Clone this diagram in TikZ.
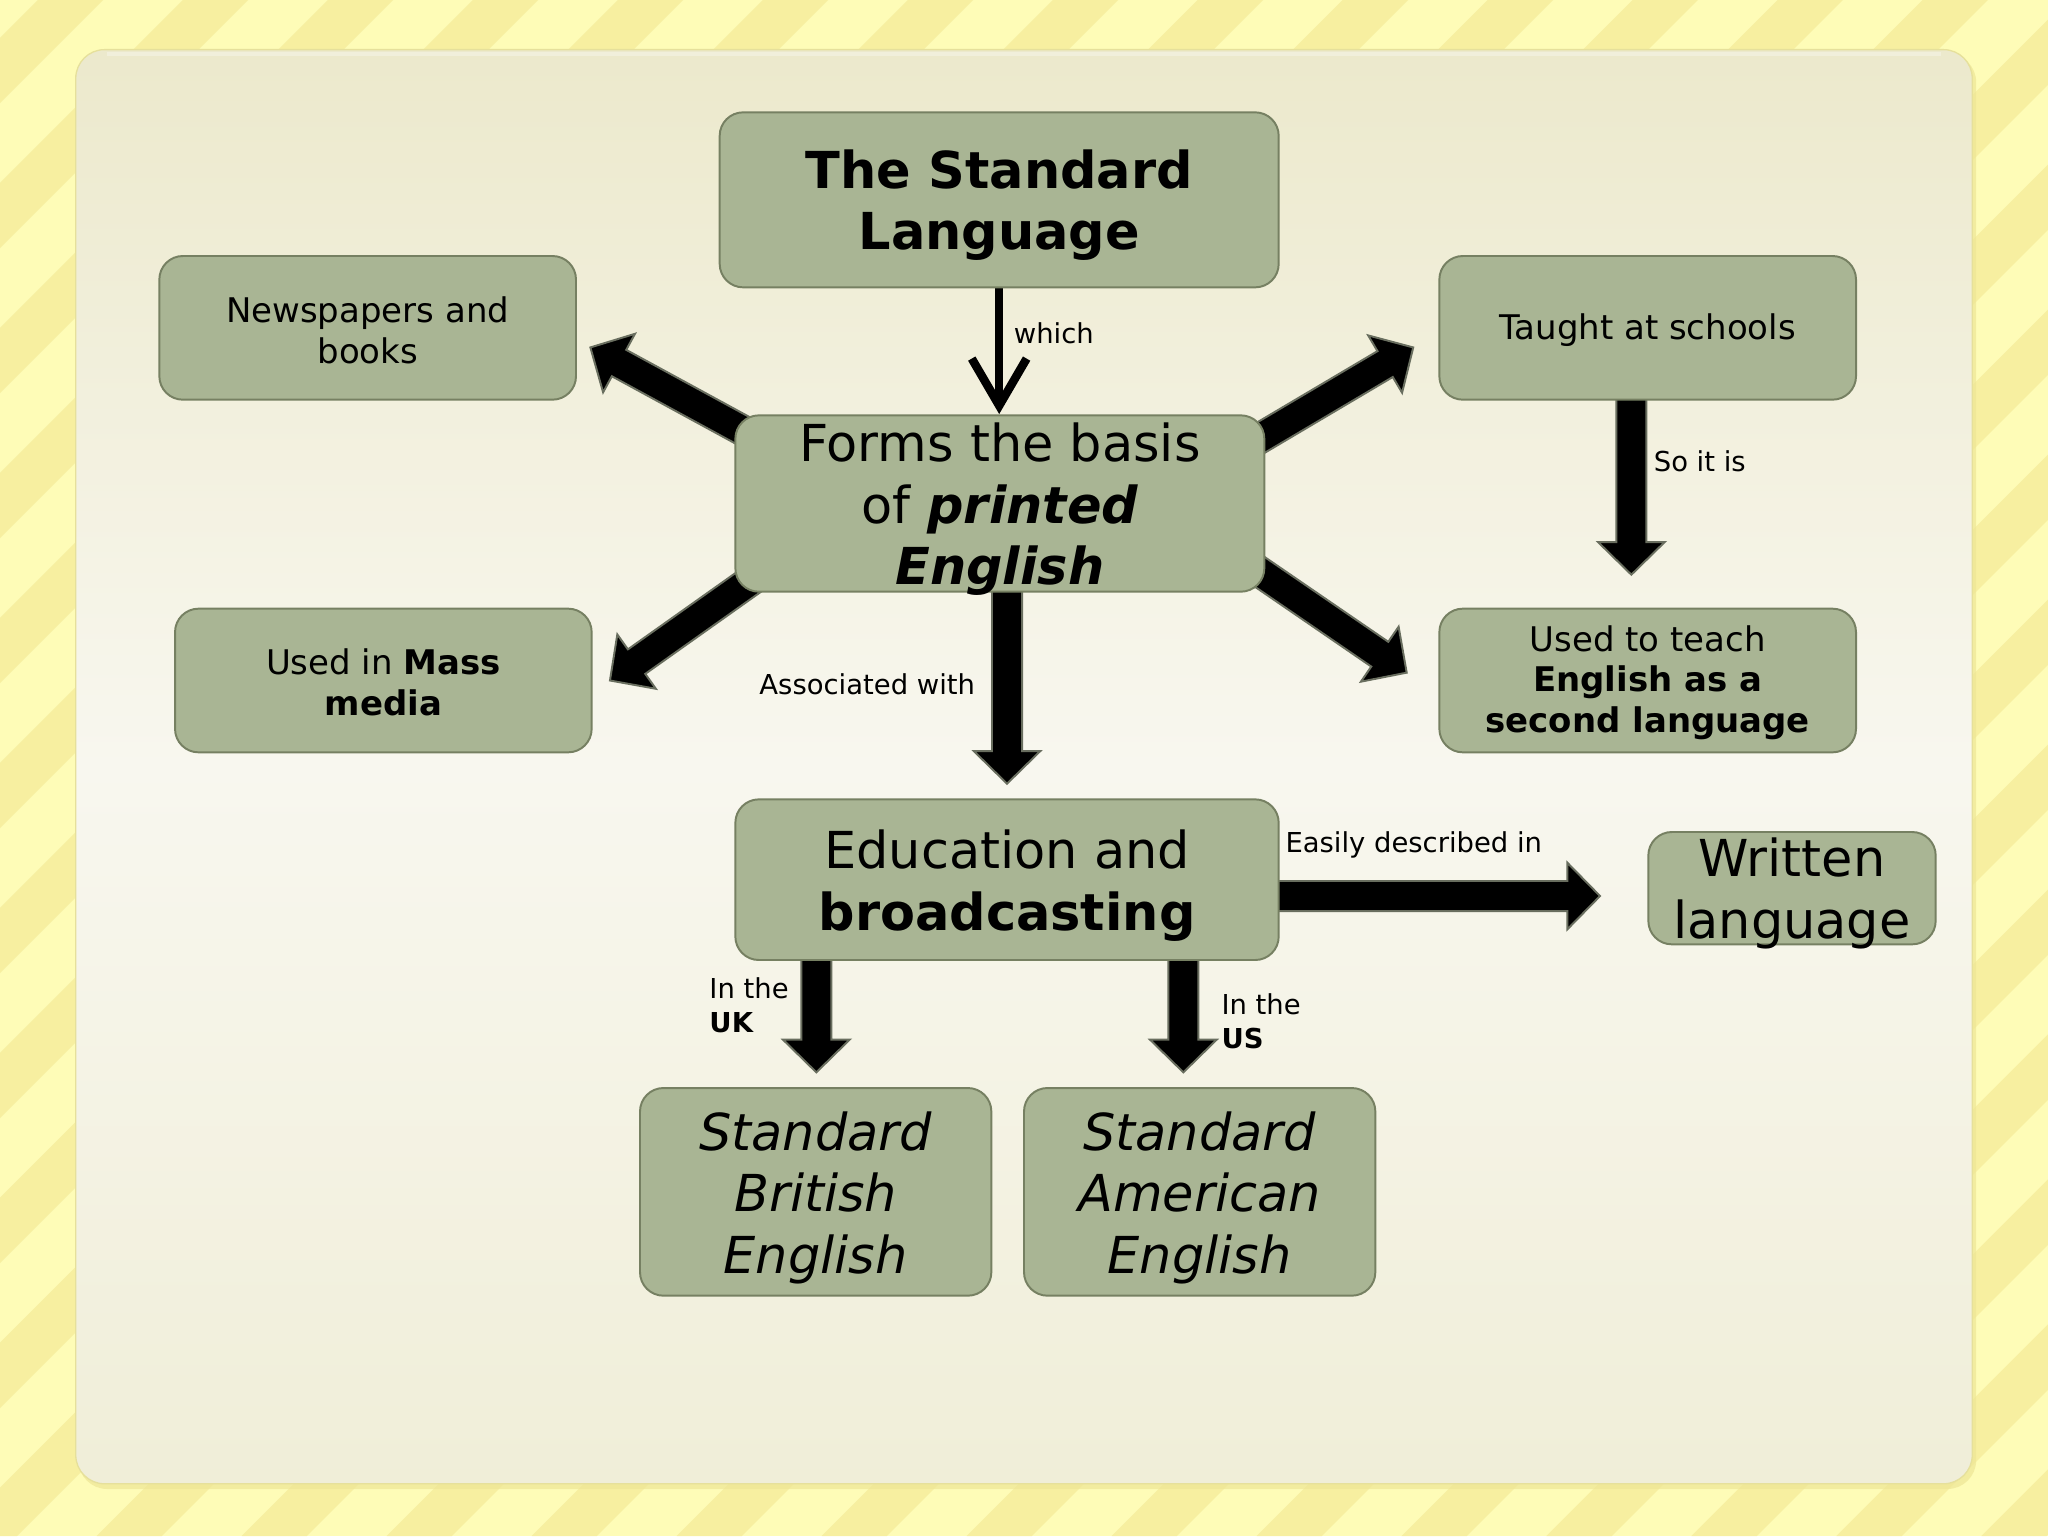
\documentclass[tikz,border=0pt]{standalone}
\usepackage{fontspec}
\setmainfont{DejaVu Sans}[BoldFont={DejaVu Sans Bold},ItalicFont={DejaVu Sans Oblique},BoldItalicFont={DejaVu Sans Bold Oblique}]
\usetikzlibrary{calc,arrows.meta}
\pgfdeclarelayer{back}
\pgfdeclarelayer{conn}
\pgfsetlayers{back,conn,main}

\definecolor{stripeA}{RGB}{254,252,183}
\definecolor{stripeB}{RGB}{247,239,160}
\definecolor{boxfill}{RGB}{169,181,148}
\definecolor{boxline}{RGB}{118,128,98}
\definecolor{arrline}{RGB}{105,110,95}
\definecolor{panelTop}{RGB}{236,233,204}
\definecolor{panelMid}{RGB}{248,247,239}
\definecolor{panelBot}{RGB}{240,238,216}
\definecolor{panelShadow}{RGB}{238,230,150}
\definecolor{panelEdge}{RGB}{230,224,155}

\newcommand\blockarrow[2]{%
  \coordinate (ba-h) at ($(#2)!25pt!(#1)$);
  \draw[blockarr] ($(#1)!11.5pt!90:(#2)$) -- ($(ba-h)!11.5pt!-90:(#1)$) -- ($(ba-h)!25.5pt!-90:(#1)$) -- (#2) -- ($(ba-h)!25.5pt!90:(#1)$) -- ($(ba-h)!11.5pt!90:(#1)$) -- ($(#1)!11.5pt!-90:(#2)$) -- cycle;
}

\tikzset{
  box/.style={draw=boxline, fill=boxfill, line width=1.5pt, rounded corners=18pt, inner sep=0pt},
  bigtxt/.style={font=\fontsize{39}{47}\selectfont, align=center, inner sep=0pt},
  smalltxt/.style={font=\fontsize{26}{31}\selectfont, align=center, inner sep=0pt},
  lbl/.style={font=\fontsize{21}{26}\selectfont, inner sep=0pt, align=left},
  blockarr/.style={fill=black, draw=arrline, line width=1.5pt, line join=miter},
  thinarr/.style={line width=6.5pt, -{Straight Barb[length=36pt,width=42pt]}},
}

\begin{document}
\begin{tikzpicture}[x=1pt,y=-1pt]
\useasboundingbox (0,0) rectangle (1568,1176);

\begin{pgfonlayer}{back}
  \fill[stripeA] (0,0) rectangle (1568,1176);
  \begin{scope}
    \clip (0,0) rectangle (1568,1176);
    \foreach \k in {0,...,25} {
      \pgfmathsetmacro\ca{29+111*\k}
      \pgfmathsetmacro\cb{79+111*\k}
      \fill[stripeB] (\ca,0) -- (\cb,0) -- (\cb-1176,1176) -- (\ca-1176,1176) -- cycle;
    }
  \end{scope}
  \fill[panelShadow, opacity=0.7, rounded corners=22pt] (60,41) rectangle (1513,1140);
  \shade[rounded corners=22pt, top color=panelTop, bottom color=panelBot, middle color=panelMid] (58,38) rectangle (1510,1136);
  \draw[panelEdge, line width=1pt, rounded corners=22pt] (58,38) rectangle (1510,1136);
  \draw[white, opacity=0.3, line width=3pt] (82,41) -- (1486,41);
\end{pgfonlayer}

% boxes
\node[box, minimum width=428pt, minimum height=134pt] (std) at (765,153) {};
\node[box, minimum width=319pt, minimum height=110pt] (news) at (281.5,251) {};
\node[box, minimum width=319pt, minimum height=110pt] (taught) at (1261.5,251) {};
\node[box, minimum width=405pt, minimum height=135pt] (forms) at (765.5,385.5) {};
\node[box, minimum width=319pt, minimum height=110pt] (mass) at (293.5,521) {};
\node[box, minimum width=319pt, minimum height=110pt] (teach) at (1261.5,521) {};
\node[box, minimum width=416pt, minimum height=123pt] (edu) at (771,673.5) {};
\node[box, minimum width=220pt, minimum height=86pt] (written) at (1372,680) {};
\node[box, minimum width=269pt, minimum height=159pt] (brit) at (624.5,912.5) {};
\node[box, minimum width=269pt, minimum height=159pt] (amer) at (918.5,912.5) {};

% box texts
\node[bigtxt] (std-t) at ([yshift=-4pt]std.center) {\textbf{The Standard}\\\textbf{Language}};
\node[smalltxt] (news-t) at ([yshift=-2pt]news.center) {Newspapers and\\books};
\node[smalltxt] (taught-t) at ([yshift=-2pt]taught.center) {Taught at schools};
\node[bigtxt] (forms-t) at ([yshift=-4.5pt]forms.center) {Forms the basis\\of \textbf{\textit{printed}}\\\textbf{\textit{English}}};
\node[smalltxt] (mass-t) at ([yshift=-1.5pt]mass.center) {Used in \textbf{Mass}\\\textbf{media}};
\node[smalltxt] (teach-t) at ([yshift=-1.5pt]teach.center) {Used to teach\\\textbf{English as a}\\\textbf{second language}};
\node[bigtxt] (edu-t) at ([yshift=-4.5pt]edu.center) {Education and\\\textbf{broadcasting}};
\node[bigtxt] (written-t) at ([yshift=-4pt]written.center) {Written\\language};
\node[bigtxt] (brit-t) at ([yshift=-4.5pt]brit.center) {\textit{Standard}\\\textit{British}\\\textit{English}};
\node[bigtxt] (amer-t) at ([yshift=-4.5pt]amer.center) {\textit{Standard}\\\textit{American}\\\textit{English}};

% labels
\node[lbl, anchor=west] (lwhich) at (776,255) {which};
\node[lbl] (lassoc) at (664,524) {Associated with};
\node[lbl, anchor=west] (lso) at (1266,353) {So it is};
\node[lbl, anchor=west] (leasy) at (984,647) {Easily described in};
\node[lbl, anchor=west] (luk) at (543,770) {In the\\\textbf{UK}};
\node[lbl, anchor=west] (lus) at (935,782) {In the\\\textbf{US}};

% connector end points
\coordinate (a1s) at (597,345);   \coordinate (a1e) at (452,266);
\coordinate (a2s) at (957,340);   \coordinate (a2e) at (1082,266);
\coordinate (a3s) at (584,438);   \coordinate (a3e) at (467,521);
\coordinate (a4s) at (956,432);   \coordinate (a4e) at (1077,515);
\coordinate (a5s) at (771,440);   \coordinate (a5e) at (771,600);
\coordinate (a6s) at (1249,300);  \coordinate (a6e) at (1249,440);
\coordinate (a7s) at (970,686);   \coordinate (a7e) at (1225,686);
\coordinate (a8s) at (625,725);   \coordinate (a8e) at (625,821);
\coordinate (a9s) at (906,725);   \coordinate (a9e) at (906,821);
\coordinate (wt) at (765,317);

\begin{pgfonlayer}{conn}
  \draw[thinarr] (std.south -| wt) -- (wt);
  \blockarrow{a1s}{a1e}
  \blockarrow{a2s}{a2e}
  \blockarrow{a3s}{a3e}
  \blockarrow{a4s}{a4e}
  \blockarrow{a5s}{a5e}
  \blockarrow{a6s}{a6e}
  \blockarrow{a7s}{a7e}
  \blockarrow{a8s}{a8e}
  \blockarrow{a9s}{a9e}
\end{pgfonlayer}
\end{tikzpicture}
\end{document}
